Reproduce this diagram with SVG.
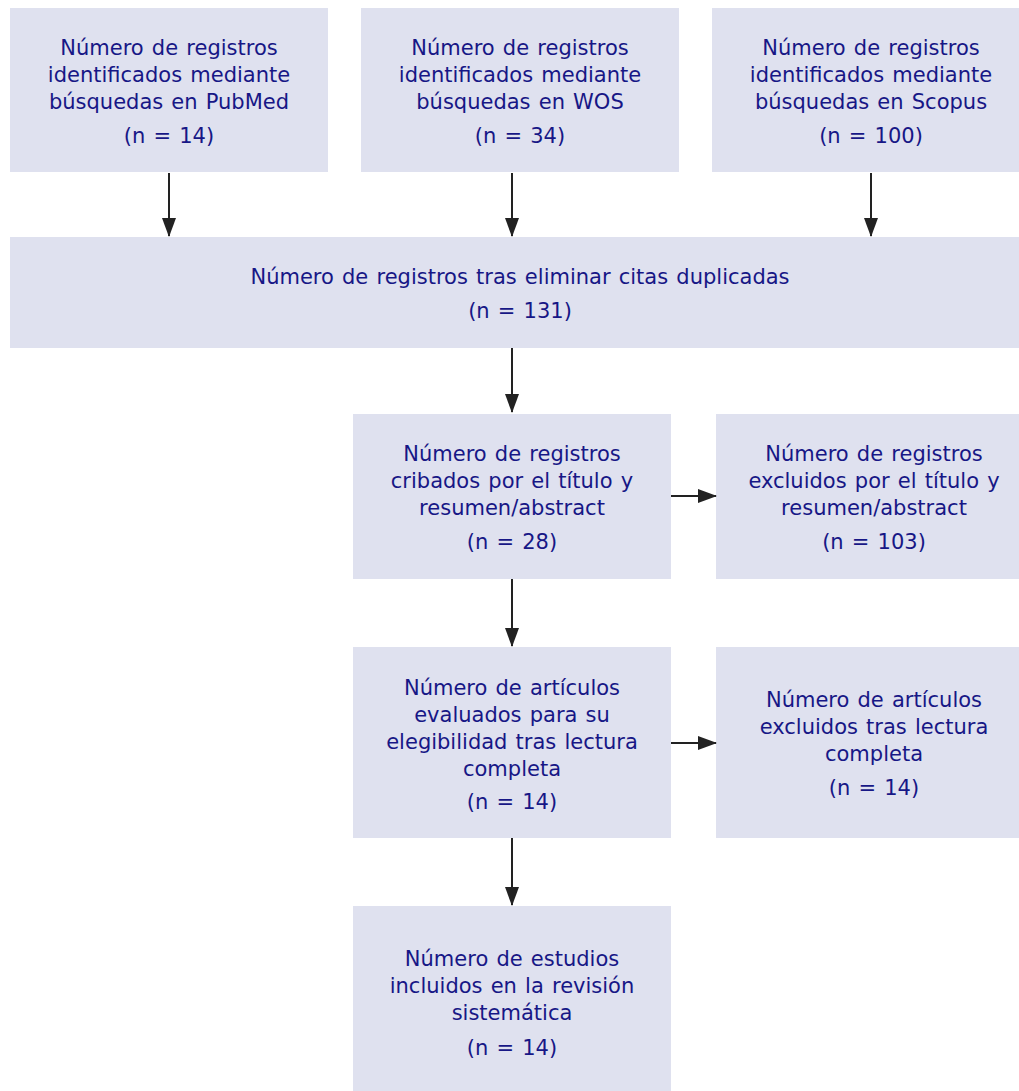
<svg xmlns="http://www.w3.org/2000/svg" width="1019" height="1091" viewBox="0 0 1019 1091">
<style>
.box{fill:#dfe1ef;}
text{font-family:Verdana,"DejaVu Sans",sans-serif;font-size:21px;word-spacing:1.5px;fill:#171786;text-anchor:middle;}
.conn line{stroke:#222;stroke-width:2;}
</style>
<defs>
<marker id="ah" markerWidth="19" markerHeight="14" viewBox="0 0 19 14" refX="18" refY="7" orient="auto" markerUnits="userSpaceOnUse">
<path d="M0,0 L19,7 L0,14 Z" fill="#222"/>
</marker>
</defs>
<rect width="1019" height="1091" fill="#fff"/>
<g id="pubmed"><rect class="box" x="10" y="8" width="318" height="164"/>
<text x="169" y="55">Número de registros</text><text x="169" y="82">identificados mediante</text><text x="169" y="109">búsquedas en PubMed</text><text x="169" y="143">(n = 14)</text></g>
<g id="wos"><rect class="box" x="361" y="8" width="318" height="164"/>
<text x="520" y="55">Número de registros</text><text x="520" y="82">identificados mediante</text><text x="520" y="109">búsquedas en WOS</text><text x="520" y="143">(n = 34)</text></g>
<g id="scopus"><rect class="box" x="712" y="8" width="318" height="164"/>
<text x="871" y="55">Número de registros</text><text x="871" y="82">identificados mediante</text><text x="871" y="109">búsquedas en Scopus</text><text x="871" y="143">(n = 100)</text></g>
<g id="dedup"><rect class="box" x="10" y="237" width="1020" height="111"/>
<text x="520" y="284">Número de registros tras eliminar citas duplicadas</text><text x="520" y="318">(n = 131)</text></g>
<g id="cribados"><rect class="box" x="353" y="414" width="318" height="165"/>
<text x="512" y="461">Número de registros</text><text x="512" y="488">cribados por el título y</text><text x="512" y="515">resumen/abstract</text><text x="512" y="549">(n = 28)</text></g>
<g id="excl1"><rect class="box" x="716" y="414" width="315" height="165"/>
<text x="874" y="461">Número de registros</text><text x="874" y="488">excluidos por el título y</text><text x="874" y="515">resumen/abstract</text><text x="874" y="549">(n = 103)</text></g>
<g id="evaluados"><rect class="box" x="353" y="647" width="318" height="191"/>
<text x="512" y="695">Número de artículos</text><text x="512" y="722">evaluados para su</text><text x="512" y="749">elegibilidad tras lectura</text><text x="512" y="776">completa</text><text x="512" y="809">(n = 14)</text></g>
<g id="excl2"><rect class="box" x="716" y="647" width="315" height="191"/>
<text x="874" y="707">Número de artículos</text><text x="874" y="734">excluidos tras lectura</text><text x="874" y="761">completa</text><text x="874" y="795">(n = 14)</text></g>
<g id="incluidos"><rect class="box" x="353" y="906" width="318" height="190"/>
<text x="512" y="966">Número de estudios</text><text x="512" y="993">incluidos en la revisión</text><text x="512" y="1020">sistemática</text><text x="512" y="1055">(n = 14)</text></g>
<g class="conn" id="connectors">
<line x1="169" y1="173" x2="169" y2="236" marker-end="url(#ah)"/>
<line x1="512" y1="173" x2="512" y2="236" marker-end="url(#ah)"/>
<line x1="871" y1="173" x2="871" y2="236" marker-end="url(#ah)"/>
<line x1="512" y1="348" x2="512" y2="412" marker-end="url(#ah)"/>
<line x1="671" y1="496" x2="716" y2="496" marker-end="url(#ah)"/>
<line x1="512" y1="579" x2="512" y2="646" marker-end="url(#ah)"/>
<line x1="671" y1="743" x2="716" y2="743" marker-end="url(#ah)"/>
<line x1="512" y1="838" x2="512" y2="905" marker-end="url(#ah)"/>
</g>
</svg>
